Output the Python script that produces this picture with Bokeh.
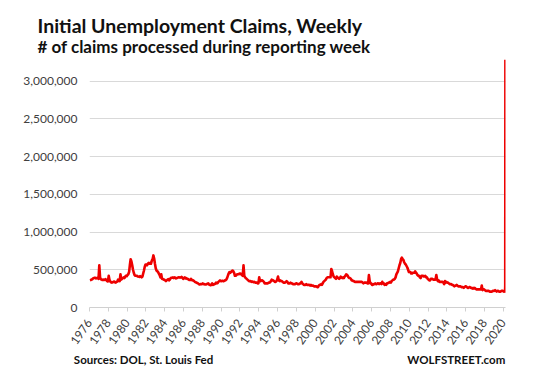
import pandas as pd
from bokeh.plotting import figure
from bokeh.models import Range1d, FixedTicker, NumeralTickFormatter, Title, LinearAxis
from bokeh.embed import file_html
from bokeh.resources import INLINE

title_text = "Initial Unemployment Claims, Weekly"
subtitle_text = "# of claims processed during reporting week"
source_text = "Sources: DOL, St. Louis Fed"
brand_text = "WOLFSTREET.com"

year_ticks = list(range(1976, 2021, 2))
value_ticks = [0, 500000, 1000000, 1500000, 2000000, 2500000, 3000000]

# monthly readings (thousands), starting January 1976
claims_1976_1979 = [
    360, 365, 370, 375, 385, 390, 395, 395, 385, 390, 395, 380,
    560, 395, 375, 370, 365, 370, 365, 370, 375, 360, 350, 345,
    420, 365, 345, 335, 330, 335, 340, 345, 335, 330, 340, 345,
    370, 355, 350, 440, 370, 380, 390, 400, 390, 410, 420, 415,
]
claims_1980s = [
    430, 440, 470, 560, 640, 610, 560, 500, 460, 430, 420, 420,
    420, 410, 410, 405, 415, 410, 400, 410, 450, 490, 540, 570,
    570, 560, 580, 590, 580, 590, 580, 620, 640, 690, 650, 580,
    520, 490, 480, 470, 450, 430, 400, 440, 380, 380, 370, 370,
    360, 350, 360, 370, 375, 360, 370, 390, 395, 395, 400, 390,
    400, 395, 385, 390, 395, 400, 400, 395, 400, 405, 395, 380,
    390, 400, 385, 390, 380, 380, 370, 365, 365, 380, 365, 360,
    360, 350, 340, 335, 330, 325, 320, 310, 305, 310, 310, 310,
    320, 310, 310, 305, 305, 310, 315, 320, 305, 300, 295, 300,
    320, 300, 305, 310, 315, 330, 320, 325, 340, 350, 360, 350,
]
claims_1990s = [
    350, 355, 350, 350, 360, 360, 370, 390, 420, 450, 470, 460,
    470, 480, 490, 480, 460, 420, 420, 430, 440, 440, 440, 450,
    450, 440, 430, 420, 560, 420, 400, 390, 380, 370, 360, 350,
    350, 350, 340, 345, 340, 335, 340, 330, 330, 330, 320, 320,
    400, 350, 350, 360, 360, 350, 340, 320, 320, 320, 320, 320,
    330, 330, 335, 350, 370, 360, 360, 350, 340, 340, 350, 370,
    410, 360, 350, 360, 350, 350, 340, 330, 330, 330, 340, 350,
    340, 320, 320, 320, 330, 320, 320, 310, 310, 310, 310, 320,
    320, 310, 310, 310, 320, 320, 340, 320, 310, 300, 300, 300,
    310, 300, 300, 300, 300, 290, 300, 290, 290, 290, 280, 280,
]
claims_2000s = [
    280, 280, 270, 270, 290, 300, 300, 310, 300, 320, 340, 350,
    360, 370, 390, 400, 400, 400, 400, 400, 510, 480, 440, 410,
    400, 390, 380, 410, 400, 390, 380, 390, 410, 400, 390, 400,
    390, 410, 420, 440, 430, 420, 400, 390, 390, 380, 360, 360,
    350, 350, 340, 340, 340, 340, 340, 340, 340, 340, 340, 340,
    330, 320, 330, 330, 330, 330, 320, 320, 430, 350, 320, 320,
    300, 300, 310, 310, 320, 310, 310, 320, 320, 310, 320, 320,
    310, 340, 320, 320, 300, 310, 300, 320, 320, 330, 330, 340,
    330, 350, 360, 370, 370, 380, 400, 440, 460, 480, 520, 560,
    590, 640, 660, 640, 630, 600, 580, 570, 550, 530, 500, 470,
]
claims_2010s = [
    470, 470, 450, 450, 460, 460, 460, 480, 460, 450, 430, 420,
    420, 400, 390, 420, 420, 420, 410, 410, 420, 400, 400, 380,
    370, 360, 360, 380, 380, 380, 370, 370, 370, 370, 430, 370,
    350, 360, 340, 340, 340, 340, 340, 330, 310, 350, 330, 340,
    330, 330, 320, 310, 310, 310, 300, 300, 290, 280, 290, 290,
    300, 290, 280, 280, 280, 280, 270, 270, 270, 260, 270, 280,
    280, 270, 260, 260, 270, 270, 260, 260, 250, 260, 250, 260,
    250, 240, 240, 240, 240, 240, 240, 240, 290, 230, 240, 240,
    230, 220, 220, 220, 220, 220, 210, 210, 210, 210, 220, 220,
    220, 230, 220, 210, 220, 220, 210, 210, 210, 220, 220, 220,
]
claims_2020_monthly = [210, 215]
final_weeks = ["2020-03-07", "2020-03-14", "2020-03-21"]
final_claims = [211, 282, 3283]

monthly = claims_1976_1979 + claims_1980s + claims_1990s + claims_2000s + claims_2010s + claims_2020_monthly
x_vals = [1976 + (i + 0.5) / 12 for i in range(len(monthly))]
for d in final_weeks:
    t = pd.Timestamp(d)
    days = 366 if t.is_leap_year else 365
    x_vals.append(t.year + (t.dayofyear - 1) / days)
y_vals = [v * 1000 for v in monthly + final_claims]

p = figure(width=529, height=370, output_backend="svg", toolbar_location=None, title=None,
           x_range=Range1d(1976.0, 2020.23), y_range=Range1d(0, 3300000),
           min_border_left=89, min_border_right=24, min_border_top=58, min_border_bottom=63)
p.outline_line_color = None
p.background_fill_color = "white"
p.border_fill_color = "white"

p.yaxis.ticker = FixedTicker(ticks=value_ticks)
p.yaxis.formatter = NumeralTickFormatter(format="0,0")
p.yaxis.axis_line_color = None
p.yaxis.major_tick_line_color = None
p.yaxis.minor_tick_line_color = None
p.yaxis.major_label_standoff = 6
p.yaxis.major_label_text_font = "Lato"
p.yaxis.major_label_text_font_size = "12px"
p.yaxis.major_label_text_color = "#404040"

p.xaxis.ticker = FixedTicker(ticks=year_ticks)
p.xaxis.formatter = NumeralTickFormatter(format="0")
p.xaxis.axis_line_color = "#d0d0d0"
p.xaxis.major_tick_line_color = "#d0d0d0"
p.xaxis.major_tick_in = 0
p.xaxis.major_tick_out = 4
p.xaxis.minor_tick_line_color = None
p.xaxis.major_label_orientation = 0.96
p.xaxis.major_label_standoff = 9
p.xaxis.major_label_text_font = "Lato"
p.xaxis.major_label_text_font_size = "12px"
p.xaxis.major_label_text_color = "#404040"

# footer line: source note on the left, site name on the right
footer_ticks = [1981.75, 2015.0]
footer_axis = LinearAxis(ticker=FixedTicker(ticks=footer_ticks),
                         major_label_overrides={footer_ticks[0]: source_text, footer_ticks[1]: brand_text})
footer_axis.axis_line_color = None
footer_axis.major_tick_line_color = None
footer_axis.minor_tick_line_color = None
footer_axis.major_label_standoff = -4
footer_axis.major_label_text_font = "Lato"
footer_axis.major_label_text_font_style = "bold"
footer_axis.major_label_text_font_size = "11.5px"
footer_axis.major_label_text_color = "#111111"
p.add_layout(footer_axis, "below")

p.xgrid.grid_line_color = None
p.ygrid.grid_line_color = "#d9d9d9"
p.ygrid.ticker = FixedTicker(ticks=value_ticks[1:])

p.line(x_vals, y_vals, line_color="#ee0000", line_width=2.6, line_join="round")

p.add_layout(Title(text=subtitle_text, align="left", offset=-52, standoff=3,
                   text_font="Lato", text_font_style="bold", text_font_size="17px",
                   text_color="#111111"), "above")
p.add_layout(Title(text=title_text, align="left", offset=-52, standoff=-8,
                   text_font="Lato", text_font_style="bold", text_font_size="19.5px",
                   text_color="#111111"), "above")

open("out.html", "w").write(file_html(p, INLINE))
